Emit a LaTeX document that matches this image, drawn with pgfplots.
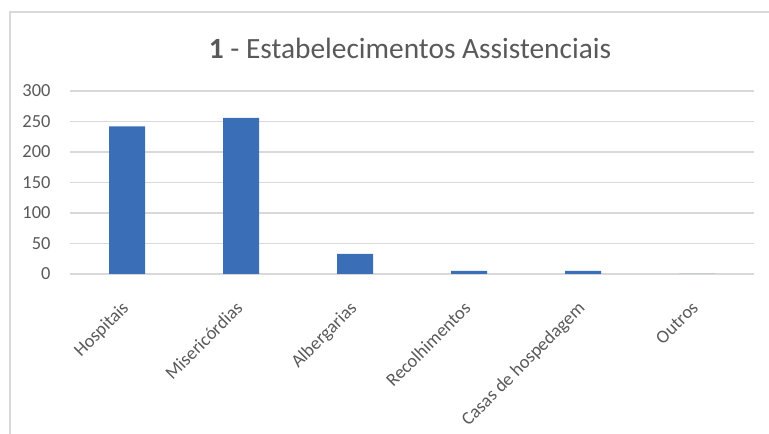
\documentclass[border=0pt]{standalone}
\usepackage{fontspec}
\setmainfont{Carlito}
\usepackage{pgfplots}
\pgfplotsset{compat=1.18}
\definecolor{barblue}{HTML}{3A6FB7}
\definecolor{gridgray}{HTML}{D9D9D9}
\definecolor{txtgray}{HTML}{595959}
\begin{document}
\begin{tikzpicture}[x=1bp,y=1bp]
\path[use as bounding box] (0,0) rectangle (769,434);
% chart frame (cropped at right and bottom)
\draw[gridgray, line width=1.5bp] (10,0) -- (10,422) -- (769,422);
\node[text=txtgray, font=\fontsize{29.5}{34}\selectfont] at (410,386)
  {\textbf{1} - Estabelecimentos Assistenciais};
\begin{axis}[
    at={(70bp,160bp)}, anchor=south west, scale only axis,
    width=684bp, height=183bp,
    ybar, bar width=36bp,
    xmin=-0.5, xmax=5.5, ymin=0, ymax=300,
    ytick={0,50,...,300},
    xtick={0,...,5},
    xticklabels={Hospitais, Misericórdias, Albergarias, Recolhimentos, Casas de hospedagem, Outros},
    axis line style={draw=none},
    tick style={draw=none},
    ymajorgrids, major grid style={gridgray, line width=1.2bp},
    /pgf/number format/assume math mode=true,
    ticklabel style={text=txtgray, font=\fontsize{18.5}{22}\selectfont},
    yticklabel style={xshift=-16bp},
    xticklabel style={rotate=45, anchor=north east, inner sep=1bp, xshift=-19bp, yshift=-10bp},
]
\addplot[fill=barblue, draw=none] coordinates {(0,242) (1,256) (2,33) (3,5) (4,5) (5,0)};
\end{axis}
\end{tikzpicture}
\end{document}
